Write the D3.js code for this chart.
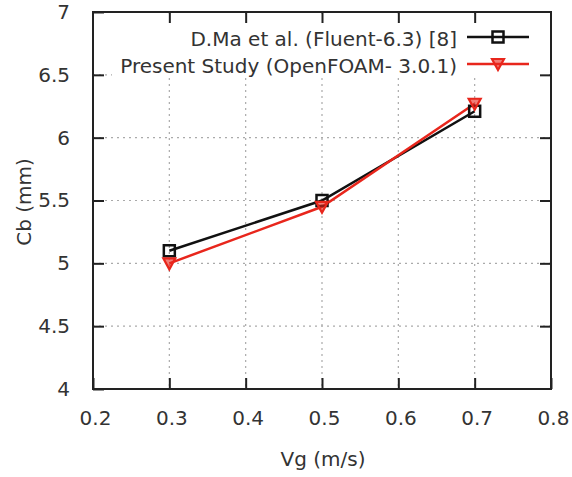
<!DOCTYPE html>
<html><head><meta charset="utf-8">
<script src="https://cdn.jsdelivr.net/npm/d3@7"></script>
<style>body{margin:0;background:#fff}svg{display:block}text{font-family:"DejaVu Sans",Verdana,sans-serif;fill:#333}</style>
</head><body><svg id="c" width="572" height="477"></svg>
<script>
const vg = [0.3, 0.5, 0.7];
const maValues = [5.1, 5.5, 6.21];
const presentValues = [5.0, 5.45, 6.27];
const seriesNames = ["D.Ma et al. (Fluent-6.3) [8]", "Present Study (OpenFOAM- 3.0.1)"];
const xTicks = [0.2, 0.3, 0.4, 0.5, 0.6, 0.7, 0.8];
const yTicks = [4, 4.5, 5, 5.5, 6, 6.5, 7];

const svg = d3.select("#c");
const L = 93, R = 551, T = 12, B = 389;
const x = d3.scaleLinear().domain([0.2, 0.8]).range([L, R]);
const y = d3.scaleLinear().domain([4, 7]).range([B, T]);
const red = "#e8261c";

// grid
const g = svg.append("g");
g.selectAll(".gx").data(xTicks.slice(1, -1)).join("line")
  .attr("x1", d => x(d)).attr("x2", d => x(d)).attr("y1", T).attr("y2", B)
  .attr("stroke", "#aaa").attr("stroke-width", 1.2).attr("stroke-dasharray", "2,4");
g.selectAll(".gy").data(yTicks.slice(1, -1)).join("line")
  .attr("x1", L).attr("x2", R).attr("y1", d => y(d)).attr("y2", d => y(d))
  .attr("stroke", "#aaa").attr("stroke-width", 1.2).attr("stroke-dasharray", "2,4");

// legend background
svg.append("rect").attr("x", 112).attr("y", T + 2).attr("width", 436).attr("height", 64).attr("fill", "#fff");

// axes with mirrored ticks
const ax = svg.append("g").attr("transform", `translate(0,${B})`)
  .call(d3.axisBottom(x).tickValues(xTicks).tickSize(-11).tickPadding(24).tickFormat(d => d));
const axTop = svg.append("g").attr("transform", `translate(0,${T})`)
  .call(d3.axisTop(x).tickValues(xTicks.slice(1, -1)).tickSize(-11).tickFormat(""));
const ay = svg.append("g").attr("transform", `translate(${L},0)`)
  .call(d3.axisLeft(y).tickValues(yTicks).tickSize(-11).tickPadding(23).tickFormat(d => d));
const ayR = svg.append("g").attr("transform", `translate(${R},0)`)
  .call(d3.axisRight(y).tickValues(yTicks.slice(1, -1)).tickSize(-11).tickFormat(""));
[ax, axTop, ay, ayR].forEach(a => {
  a.select(".domain").remove();
  a.selectAll(".tick line").attr("stroke", "#222").attr("stroke-width", 2);
  a.selectAll("text").attr("font-size", 20).attr("fill", "#333");
});
ax.selectAll("text").attr("dy", "0").attr("y", 36).attr("dx", 2);
svg.append("rect").attr("x", L).attr("y", T).attr("width", R - L).attr("height", B - T)
  .attr("fill", "none").attr("stroke", "#222").attr("stroke-width", 2);

// axis titles
svg.append("text").attr("x", 323).attr("y", 466).attr("text-anchor", "middle").attr("font-size", 20).text("Vg (m/s)");
svg.append("text").attr("transform", "translate(31,202) rotate(-90)").attr("text-anchor", "middle").attr("font-size", 20).text("Cb (mm)");

// series
const line = d3.line().x(d => x(d[0])).y(d => y(d[1]));
const maPts = vg.map((v, i) => [v, maValues[i]]);
const prPts = vg.map((v, i) => [v, presentValues[i]]);
const sq = (sel, cx, cy) => sel.append("rect").attr("x", cx - 5.5).attr("y", cy - 5.5).attr("width", 11).attr("height", 11)
  .attr("fill", "none").attr("stroke", "#111").attr("stroke-width", 2.5);
const tri = (sel, cx, cy) => sel.append("path").attr("d", `M${cx - 6},${cy - 5}L${cx + 6},${cy - 5}L${cx},${cy + 6}Z`)
  .attr("fill", red).attr("fill-opacity", 0.6).attr("stroke", red).attr("stroke-width", 2.2);

svg.append("path").attr("d", line(maPts)).attr("fill", "none").attr("stroke", "#111").attr("stroke-width", 2.5);
svg.append("path").attr("d", line(prPts)).attr("fill", "none").attr("stroke", red).attr("stroke-width", 2.5);
maPts.forEach(p => sq(svg, x(p[0]), y(p[1])));
prPts.forEach(p => tri(svg, x(p[0]), y(p[1])));

// legend
const lg = svg.append("g");
const ly = [37, 64];
seriesNames.forEach((n, i) => {
  lg.append("text").attr("x", 457).attr("y", ly[i] + 9).attr("text-anchor", "end").attr("font-size", 20).text(n);
  lg.append("line").attr("x1", 467).attr("x2", 529).attr("y1", ly[i]).attr("y2", ly[i])
    .attr("stroke", i === 0 ? "#111" : red).attr("stroke-width", 2.5);
  if (i === 0) sq(lg, 498, ly[i]); else tri(lg, 498, ly[i]);
});
</script></body></html>
